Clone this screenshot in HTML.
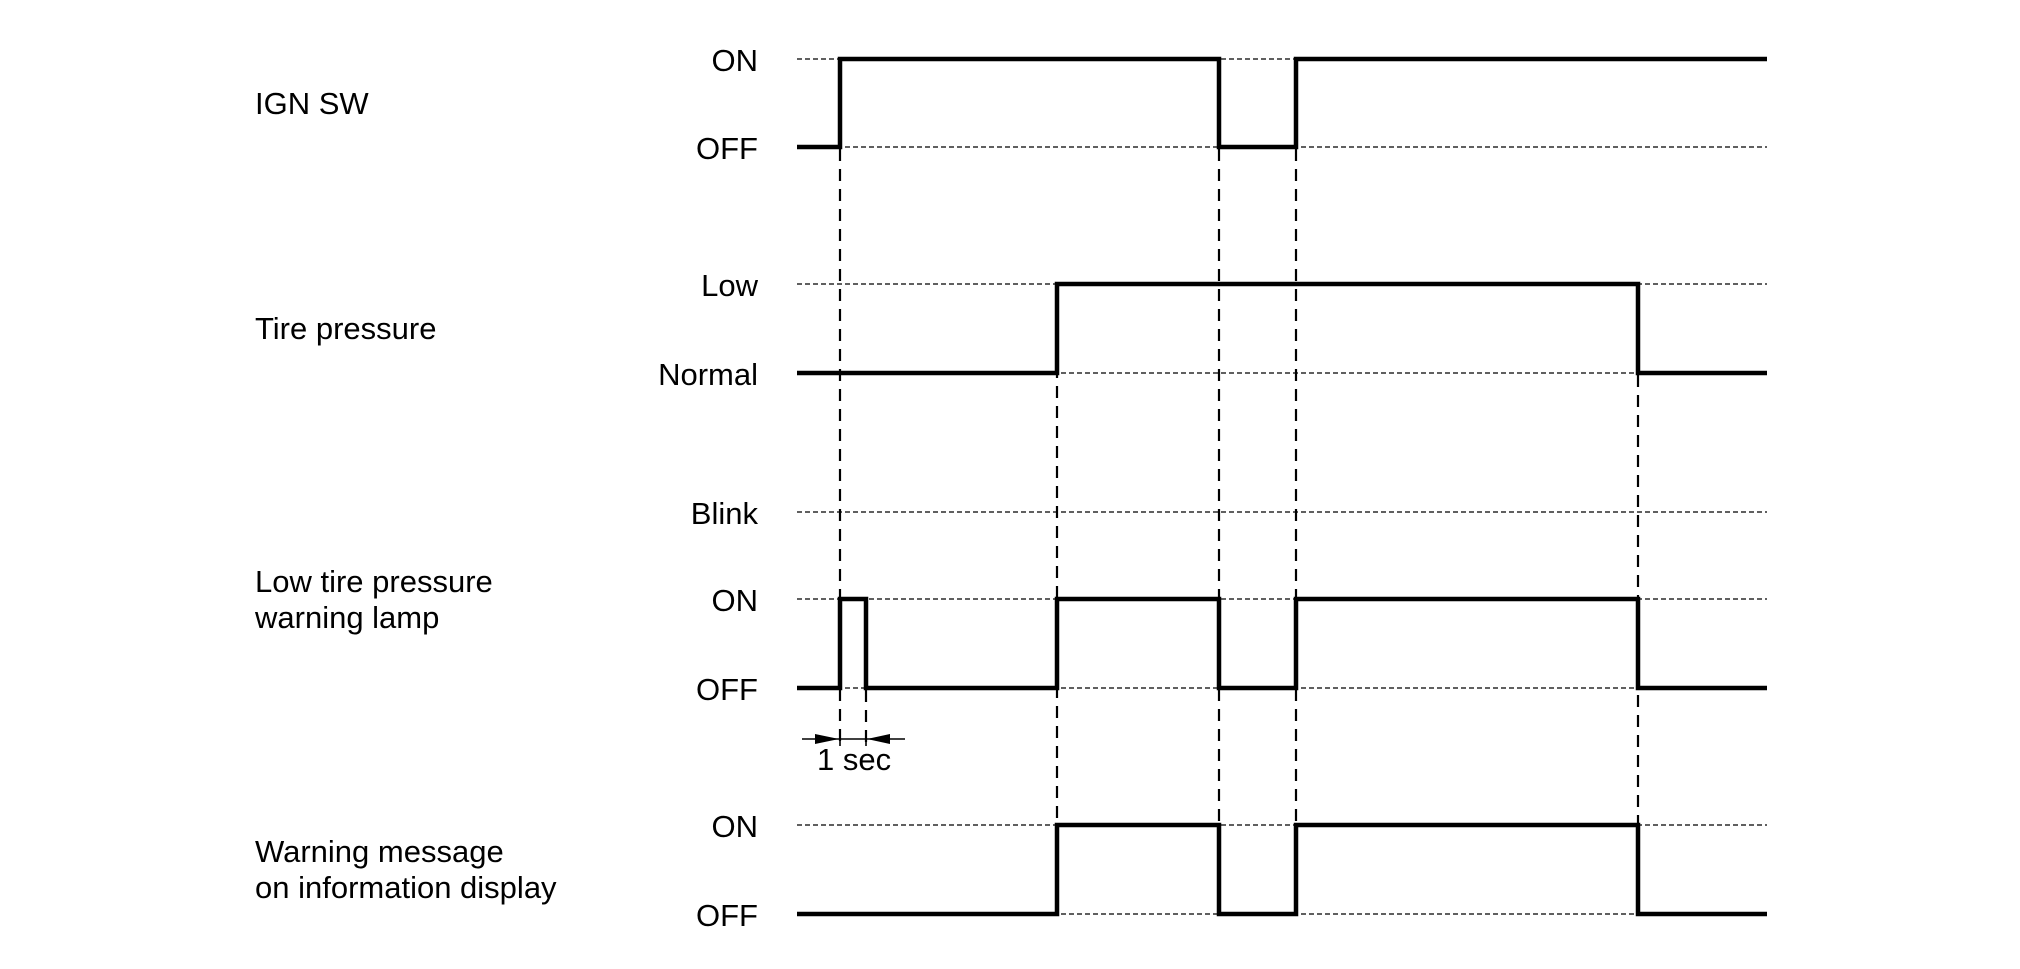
<!DOCTYPE html>
<html>
<head>
<meta charset="utf-8">
<style>
  html, body { margin:0; padding:0; background:#fff; }
  body { width:2020px; height:969px; overflow:hidden; }
  svg { display:block; }
  text { font-family:"Liberation Sans", Arial, sans-serif; font-size:31px; fill:#000; }
</style>
</head>
<body>
<svg width="2020" height="969" viewBox="0 0 2020 969" xmlns="http://www.w3.org/2000/svg">
  <rect width="2020" height="969" fill="#fff"/>

  <!-- thin horizontal reference dashed lines -->
  <g stroke="#000" stroke-width="1.3" stroke-dasharray="5 3" fill="none">
    <line x1="797" y1="59" x2="1767" y2="59"/>
    <line x1="797" y1="147" x2="1767" y2="147"/>
    <line x1="797" y1="284" x2="1767" y2="284"/>
    <line x1="797" y1="373" x2="1767" y2="373"/>
    <line x1="797" y1="512" x2="1767" y2="512"/>
    <line x1="797" y1="599" x2="1767" y2="599"/>
    <line x1="797" y1="688" x2="1767" y2="688"/>
    <line x1="797" y1="825" x2="1767" y2="825"/>
    <line x1="797" y1="914" x2="1767" y2="914"/>
  </g>

  <!-- vertical dashed guide lines -->
  <g stroke="#000" stroke-width="2.2" stroke-dasharray="12 8" fill="none">
    <line x1="840" y1="149" x2="840" y2="746"/>
    <line x1="866" y1="690" x2="866" y2="746"/>
    <line x1="1057" y1="286" x2="1057" y2="825"/>
    <line x1="1219" y1="149" x2="1219" y2="825"/>
    <line x1="1296" y1="149" x2="1296" y2="825"/>
    <line x1="1638" y1="375" x2="1638" y2="825"/>
  </g>

  <!-- signals -->
  <g stroke="#000" stroke-width="4.5" fill="none" stroke-linejoin="miter" stroke-linecap="butt">
    <path d="M797 147 H840 V59 H1219 V147 H1296 V59 H1767"/>
    <path d="M797 373 H1057 V284 H1638 V373 H1767"/>
    <path d="M797 688 H840 V599 H866 V688 H1057 V599 H1219 V688 H1296 V599 H1638 V688 H1767"/>
    <path d="M797 914 H1057 V825 H1219 V914 H1296 V825 H1638 V914 H1767"/>
  </g>

  <!-- 1 sec dimension -->
  <g stroke="#000" stroke-width="1.6" fill="none">
    <line x1="802" y1="739" x2="905" y2="739"/>
    <line x1="840" y1="733" x2="840" y2="746"/>
    <line x1="866" y1="733" x2="866" y2="746"/>
  </g>
  <polygon points="815,734 839,739 815,744" fill="#000"/>
  <polygon points="890,734 867,739 890,744" fill="#000"/>
  <text x="817" y="770">1 sec</text>

  <!-- left labels -->
  <text x="255" y="114">IGN SW</text>
  <text x="255" y="339">Tire pressure</text>
  <text x="255" y="592">Low tire pressure</text>
  <text x="255" y="628">warning lamp</text>
  <text x="255" y="862">Warning message</text>
  <text x="255" y="898">on information display</text>

  <!-- level labels -->
  <g text-anchor="end">
    <text x="758" y="71">ON</text>
    <text x="758" y="159">OFF</text>
    <text x="758" y="296">Low</text>
    <text x="758" y="385">Normal</text>
    <text x="758" y="524">Blink</text>
    <text x="758" y="611">ON</text>
    <text x="758" y="700">OFF</text>
    <text x="758" y="837">ON</text>
    <text x="758" y="926">OFF</text>
  </g>
</svg>
</body>
</html>
